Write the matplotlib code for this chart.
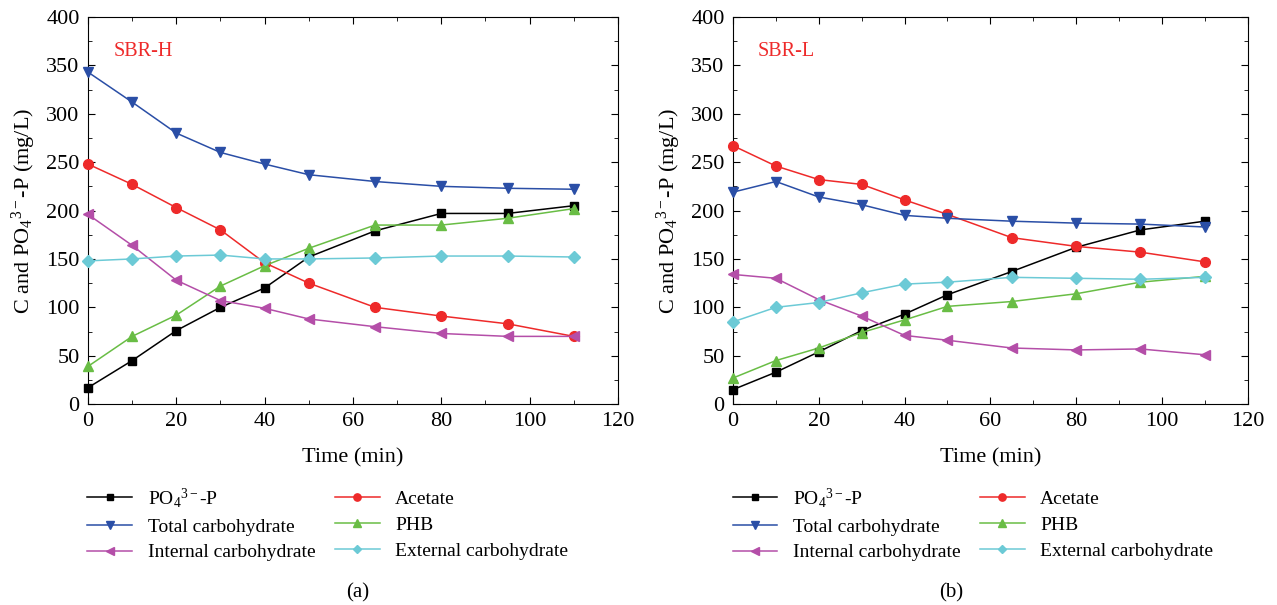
import matplotlib.pyplot as plt
from matplotlib.ticker import MultipleLocator

plt.rcParams['font.family'] = ['Liberation Serif', 'DejaVu Serif']
plt.rcParams['mathtext.fontset'] = 'custom'
plt.rcParams['mathtext.rm'] = 'Liberation Serif'
plt.rcParams['mathtext.it'] = 'Liberation Serif:italic'

time = [0, 10, 20, 30, 40, 50, 65, 80, 95, 110]

# SBR-H
h_po4 = [17, 45, 76, 100, 120, 152, 179, 197, 197, 205]
h_acetate = [248, 227, 203, 180, 146, 125, 100, 91, 83, 70]
h_total = [343, 312, 280, 260, 248, 237, 230, 225, 223, 222]
h_phb = [39, 70, 92, 122, 143, 161, 185, 185, 192, 202]
h_internal = [196, 164, 128, 107, 99, 88, 80, 73, 70, 70]
h_external = [148, 150, 153, 154, 150, 150, 151, 153, 153, 152]

# SBR-L
l_po4 = [15, 33, 54, 76, 93, 113, 137, 162, 180, 189]
l_acetate = [267, 246, 232, 227, 211, 196, 172, 163, 157, 147]
l_total = [219, 230, 214, 206, 195, 192, 189, 187, 186, 183]
l_phb = [27, 45, 58, 74, 87, 101, 106, 114, 126, 132]
l_internal = [134, 130, 108, 91, 71, 66, 58, 56, 57, 51]
l_external = [85, 100, 105, 115, 124, 126, 131, 130, 129, 131]

labels = ['PO$_4$$^{3\u2212}$-P', 'Acetate', 'Total carbohydrate', 'PHB',
          'Internal carbohydrate', 'External carbohydrate']
colors = ['black', '#ee2a2a', '#2a4ea6', '#69bd45', '#b44ea8', '#6ccad6']
markers = ['s', 'o', 'v', '^', '<', 'D']
sizes = [6, 7, 7, 7, 7, 6]

fig = plt.figure(figsize=(12.77, 6.05), dpi=100)
ax1 = fig.add_axes([0.0689, 0.332, 0.415, 0.640])
ax2 = fig.add_axes([0.574, 0.332, 0.403, 0.640])

panels = [
    (ax1, [h_po4, h_acetate, h_total, h_phb, h_internal, h_external], 'SBR-H', '(a)', 0.280),
    (ax2, [l_po4, l_acetate, l_total, l_phb, l_internal, l_external], 'SBR-L', '(b)', 0.745),
]

for ax, series, name, tag, tx in panels:
    lines = []
    for y, lab, c, m, ms in zip(series, labels, colors, markers, sizes):
        ln, = ax.plot(time, y, color=c, marker=m, markersize=ms, lw=1.1,
                      label=lab, clip_on=False, zorder=3)
        lines.append(ln)
    ax.set_xlim(0, 120)
    ax.set_ylim(0, 400)
    ax.xaxis.set_major_locator(MultipleLocator(20))
    ax.xaxis.set_minor_locator(MultipleLocator(10))
    ax.yaxis.set_major_locator(MultipleLocator(50))
    ax.yaxis.set_minor_locator(MultipleLocator(25))
    ax.tick_params(which='both', direction='in', top=True, right=True, labelsize=16)
    ax.tick_params(which='major', length=5, pad=6)
    ax.tick_params(which='minor', length=3)
    ax.set_xlabel('Time (min)', fontsize=16, labelpad=12)
    ax.set_ylabel('C and PO$_4$$^{3\u2212}$-P (mg/L)', fontsize=16, labelpad=6)
    ax.text(0.048, 0.9, name, transform=ax.transAxes, color='#ee2a2a', fontsize=14.5)

    order = [0, 2, 4, 1, 3, 5]
    bb = ax.get_position()
    fig.legend([lines[i] for i in order], [labels[i] for i in order],
               loc='upper left', bbox_to_anchor=(bb.x0 - 0.008, 0.213), ncol=2,
               frameon=False, fontsize=14, handlelength=2.3, labelspacing=0.42,
               columnspacing=1.0, borderpad=0, handletextpad=0.8, markerscale=0.75)
    fig.text(tx, 0.012, tag, ha='center', fontsize=15)

fig.savefig('out.png', dpi=100)
